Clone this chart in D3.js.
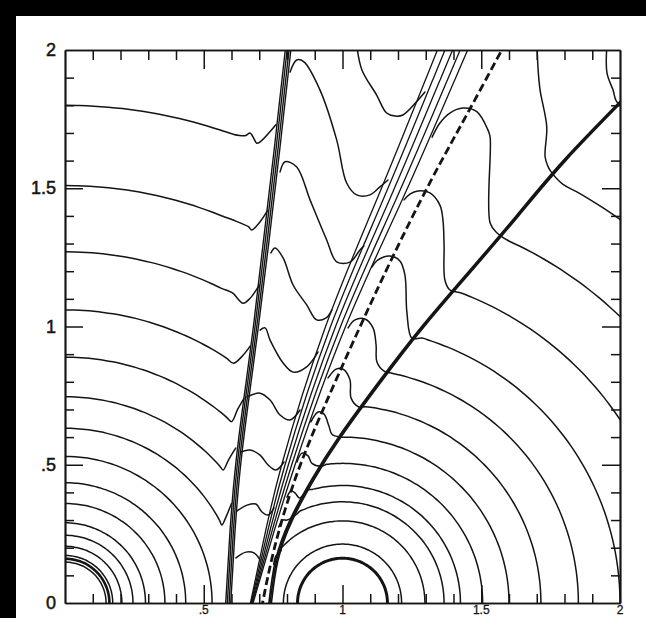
<!DOCTYPE html>
<html>
<head>
<meta charset="utf-8">
<script src="https://cdn.jsdelivr.net/npm/d3@7"></script>
<style>
  body { margin: 0; background: #000; }
</style>
</head>
<body>
<div id="chart"></div>
<script>
// Measurement
var w = 646, h = 618;
var plot = { left: 65, right: 620, top: 50, bottom: 603 };
var ink = "#141414";

// Ticks
var minorTicks = [0.1, 0.2, 0.3, 0.4, 0.6, 0.7, 0.8, 0.9, 1.1, 1.2, 1.3, 1.4, 1.6, 1.7, 1.8, 1.9];
var majorTicks = [0.5, 1, 1.5];
var labelValues = [0, 0.5, 1, 1.5, 2];
var labelText = ["0", ".5", "1", "1.5", "2"];

// Wavefronts round the first source (0,0): full quarter circles
var innerRadii = [0.148, 0.160, 0.172, 0.205, 0.245, 0.29, 0.36, 0.435, 0.53];
var innerThick = 0.160;

// Wavefronts round (0,0) that are cut by the first shock, with the dip at the shock
var cutRadii = [0.632, 0.746, 0.889, 1.06, 1.27, 1.51, 1.80];
var cutTails = [
  [[0.565, 0.282], [0.583, 0.318], [0.60, 0.36]],
  [[0.570, 0.481], [0.589, 0.517], [0.615, 0.56]],
  [[0.600, 0.656], [0.622, 0.700], [0.645, 0.74]],
  [[0.583, 0.885], [0.607, 0.867], [0.637, 0.891], [0.668, 0.93]],
  [[0.595, 1.126], [0.606, 1.120], [0.642, 1.084], [0.667, 1.102], [0.70, 1.15]],
  [[0.606, 1.385], [0.661, 1.361], [0.673, 1.349], [0.703, 1.379], [0.73, 1.42]],
  [[0.607, 1.695], [0.649, 1.690], [0.667, 1.700], [0.678, 1.685], [0.691, 1.663], [0.703, 1.668], [0.76, 1.73]]
];

// Wavy contours between the first shock and the thin bundle
var midLines = [
  [[1.051, 2.02], [1.070, 1.928], [1.123, 1.837], [1.159, 1.772], [1.189, 1.761], [1.218, 1.765], [1.267, 1.813], [1.297, 1.848]],
  [[0.811, 1.920], [0.835, 1.964], [0.861, 1.957], [0.919, 1.855], [0.979, 1.675], [1.015, 1.519], [1.051, 1.476], [1.099, 1.476], [1.135, 1.505], [1.164, 1.530]],
  [[0.775, 1.559], [0.793, 1.596], [0.835, 1.577], [0.883, 1.458], [0.943, 1.313], [0.979, 1.234], [1.027, 1.233], [1.063, 1.277], [1.077, 1.291]],
  [[0.742, 1.266], [0.757, 1.284], [0.786, 1.248], [0.822, 1.150], [0.871, 1.078], [0.907, 1.024], [0.941, 1.031], [0.962, 1.060]],
  [[0.703, 0.987], [0.721, 0.995], [0.739, 0.951], [0.786, 0.868], [0.822, 0.835], [0.871, 0.854], [0.912, 0.908]],
  [[0.656, 0.745], [0.703, 0.759], [0.739, 0.734], [0.775, 0.680], [0.811, 0.662], [0.847, 0.698]],
  [[0.634, 0.546], [0.667, 0.553], [0.703, 0.535], [0.732, 0.499], [0.760, 0.481], [0.789, 0.510]],
  [[0.620, 0.333], [0.656, 0.354], [0.688, 0.358], [0.710, 0.329], [0.732, 0.318], [0.753, 0.344]],
  [[0.616, 0.163], [0.652, 0.184], [0.681, 0.181], [0.703, 0.156]]
];

// Wavefronts round the second source (1,0)
var rightFull = [0.162, 0.213];
var rightThick = 0.162;
var rightRadii = [0.297, 0.366, 0.425, 0.505, 0.60, 0.715, 0.85, 1.0, 1.2, 1.44, 1.71];
// tongues between the bundle and the second shock, one per radius above
var tongues = [
  [[0.752, 0.14], [0.76, 0.17], [0.778, 0.188]],
  [[0.770, 0.275], [0.785, 0.30], [0.800, 0.30], [0.836, 0.322]],
  [[0.800, 0.383], [0.815, 0.405], [0.829, 0.398], [0.845, 0.380], [0.876, 0.409]],
  [[0.836, 0.510], [0.854, 0.542], [0.876, 0.532], [0.890, 0.505], [0.926, 0.495]],
  [[0.886, 0.655], [0.912, 0.691], [0.933, 0.684], [0.951, 0.640], [0.962, 0.610], [0.991, 0.600]],
  [[0.948, 0.814], [0.977, 0.846], [1.002, 0.846], [1.027, 0.807], [1.031, 0.741], [1.059, 0.709]],
  [[1.020, 0.995], [1.045, 1.024], [1.081, 1.027], [1.110, 0.995], [1.121, 0.933], [1.124, 0.872], [1.150, 0.839]],
  [[1.106, 1.215], [1.128, 1.241], [1.171, 1.255], [1.207, 1.237], [1.225, 1.186], [1.232, 1.052], [1.250, 0.958]],
  [[1.222, 1.458], [1.243, 1.479], [1.272, 1.490], [1.315, 1.483], [1.351, 1.439], [1.362, 1.385], [1.366, 1.295], [1.369, 1.168], [1.387, 1.132]],
  [[1.323, 1.685], [1.351, 1.736], [1.387, 1.772], [1.434, 1.790], [1.484, 1.777], [1.524, 1.711], [1.532, 1.685], [1.532, 1.374], [1.557, 1.338]],
  [[1.701, 2.02], [1.705, 1.928], [1.712, 1.855], [1.736, 1.723], [1.730, 1.614], [1.740, 1.580], [1.750, 1.562]]
];
var cornerLine = [[1.953, 2.02], [1.953, 1.917], [1.975, 1.855], [1.989, 1.812], [2.02, 1.80]];

// Fronts: [x, y, half width of the bundle]
var shockOne = [[0.587, -0.02, 0.009], [0.603, 0.25, 0.009], [0.624, 0.5, 0.009], [0.655, 0.75, 0.009], [0.688, 1.0, 0.009], [0.724, 1.3, 0.010], [0.765, 1.65, 0.010], [0.806, 2.02, 0.010]];
var thinBundle = [[0.668, -0.02, 0.004], [0.718, 0.18, 0.012], [0.805, 0.5, 0.024], [0.975, 1.0, 0.036], [1.17, 1.46, 0.046], [1.355, 1.9, 0.053], [1.405, 2.02, 0.055]];
var dashedFront = [[0.708, -0.02], [0.755, 0.2], [0.83, 0.45], [0.93, 0.7], [1.05, 0.97], [1.18, 1.25], [1.32, 1.53], [1.45, 1.77], [1.59, 2.03]];
var shockTwo = [[0.737, -0.02, 0.0045], [0.762, 0.15, 0.0045], [0.815, 0.3, 0.0045], [0.895, 0.45, 0.0045], [0.99, 0.6, 0.0045], [1.135, 0.8, 0.0045], [1.29, 1.0, 0.0045], [1.46, 1.2, 0.0045], [1.63, 1.4, 0.0045], [1.80, 1.6, 0.0045], [2.03, 1.84, 0.0045]];

// Scaling
var x = d3.scaleLinear().domain([0, 2]).range([plot.left, plot.right]);
var y = d3.scaleLinear().domain([0, 2]).range([plot.bottom, plot.top]);

var svg = d3.select("#chart").append("svg")
  .attr("width", w)
  .attr("height", h);

svg.append("rect").attr("width", w).attr("height", h).attr("fill", "#000");
svg.append("rect").attr("x", 16).attr("y", 16).attr("width", w - 16).attr("height", h - 16).attr("fill", "#fff");

svg.append("clipPath").attr("id", "clip")
  .append("rect")
  .attr("x", plot.left).attr("y", plot.top)
  .attr("width", plot.right - plot.left).attr("height", plot.bottom - plot.top);

var g = svg.append("g").attr("clip-path", "url(#clip)");

var line = d3.line()
  .x(function(d) { return x(d[0]); })
  .y(function(d) { return y(d[1]); })
  .curve(d3.curveCatmullRom.alpha(0.5));

var smooth = d3.line()
  .x(function(d) { return x(d[0]); })
  .y(function(d) { return y(d[1]); })
  .curve(d3.curveNatural);

function arcPoints(cx, r, a0, a1) {
  var n = Math.ceil(Math.abs(a1 - a0) / 2) + 1;
  return d3.range(n + 1).map(function(i) {
    var a = (a0 + (a1 - a0) * i / n) * Math.PI / 180;
    return [cx + r * Math.cos(a), r * Math.sin(a)];
  });
}

function angleOf(cx, p) {
  return Math.atan2(p[1], p[0] - cx) * 180 / Math.PI;
}

function offsetLine(pts, t) {
  return pts.map(function(p) { return [p[0] + t * p[2], p[1]]; });
}

function stroke(sel, width) {
  return sel.attr("fill", "none").attr("stroke", ink).attr("stroke-width", width)
    .attr("stroke-linejoin", "round").attr("stroke-linecap", "round");
}

// first source
innerRadii.forEach(function(r) {
  stroke(g.append("path").attr("d", line(arcPoints(0, r, 90, 0))), r === innerThick ? 2.6 : 1.5);
});

cutRadii.forEach(function(r, i) {
  var tail = cutTails[i];
  var pts = arcPoints(0, r, 90, angleOf(0, tail[0]) + 1.5).concat(tail);
  stroke(g.append("path").attr("d", line(pts)), 1.5);
});

midLines.forEach(function(pts) {
  stroke(g.append("path").attr("d", line(pts)), 1.5);
});

// second source
rightFull.forEach(function(r) {
  stroke(g.append("path").attr("d", line(arcPoints(1, r, 0, 180))), r === rightThick ? 3 : 1.5);
});

rightRadii.forEach(function(r, i) {
  var tongue = tongues[i];
  var end = tongue[tongue.length - 1];
  var pts = tongue.concat(arcPoints(1, r, angleOf(1, end) - 2, 0));
  stroke(g.append("path").attr("d", line(pts)), 1.5);
});

stroke(g.append("path").attr("d", line(cornerLine)), 1.5);

// fronts
[-1, -0.35, 0.35, 1].forEach(function(t) {
  stroke(g.append("path").attr("d", smooth(offsetLine(shockOne, t))), 1.4);
});

[-1, -0.5, 0, 0.5, 1].forEach(function(t) {
  stroke(g.append("path").attr("d", smooth(offsetLine(thinBundle, t))), 1.3);
});

g.append("path")
  .attr("d", smooth(dashedFront))
  .attr("fill", "none")
  .attr("stroke", ink)
  .attr("stroke-width", 2.8)
  .attr("stroke-dasharray", "8,4");

[-1, 0, 1].forEach(function(t) {
  stroke(g.append("path").attr("d", smooth(offsetLine(shockTwo, t))), 1.6);
});

// Axis
function ticks(axisFn, scale, values, size, transform) {
  svg.append("g")
    .attr("transform", transform)
    .call(axisFn(scale).tickValues(values).tickSizeInner(-size).tickSizeOuter(0).tickFormat(""))
    .call(function(sel) {
      sel.selectAll("line").attr("stroke", ink).attr("stroke-width", 1.5);
      sel.select(".domain").attr("stroke", ink).attr("stroke-width", 1.7);
    });
}

ticks(d3.axisBottom, x, minorTicks, 9, "translate(0," + plot.bottom + ")");
ticks(d3.axisBottom, x, majorTicks, 18, "translate(0," + plot.bottom + ")");
ticks(d3.axisTop, x, minorTicks, 10, "translate(0," + plot.top + ")");
ticks(d3.axisTop, x, majorTicks, 19, "translate(0," + plot.top + ")");
ticks(d3.axisLeft, y, minorTicks, 9, "translate(" + plot.left + ",0)");
ticks(d3.axisLeft, y, majorTicks, 18, "translate(" + plot.left + ",0)");
ticks(d3.axisRight, y, minorTicks, 9, "translate(" + plot.right + ",0)");
ticks(d3.axisRight, y, majorTicks, 18, "translate(" + plot.right + ",0)");

svg.selectAll(".ylabel")
  .data(labelValues)
  .enter()
  .append("text")
  .attr("class", "ylabel")
  .attr("x", plot.left - 9)
  .attr("y", function(d) { return y(d) + 6; })
  .attr("text-anchor", "end")
  .attr("font-family", "Liberation Sans, Arial, sans-serif")
  .attr("font-size", 18)
  .attr("fill", ink)
  .attr("stroke", ink)
  .attr("stroke-width", 0.5)
  .text(function(d, i) { return labelText[i]; });

svg.selectAll(".xlabel")
  .data(labelValues.slice(1))
  .enter()
  .append("text")
  .attr("class", "xlabel")
  .attr("x", function(d) { return x(d); })
  .attr("y", h - 4)
  .attr("text-anchor", "middle")
  .attr("font-family", "Liberation Sans, Arial, sans-serif")
  .attr("font-size", 12)
  .attr("fill", ink)
  .attr("stroke", ink)
  .attr("stroke-width", 0.3)
  .text(function(d, i) { return labelText[i + 1]; });
</script>
</body>
</html>
